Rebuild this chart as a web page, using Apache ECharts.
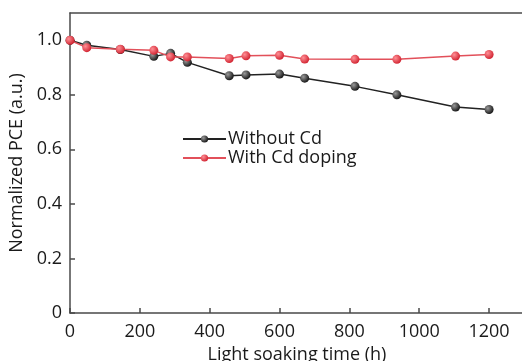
<!DOCTYPE html>
<html>
<head>
<meta charset="utf-8">
<script src="https://cdn.jsdelivr.net/npm/echarts@6/dist/echarts.min.js"></script>
<style>
  html, body { margin: 0; padding: 0; background: #fff; }
  #chart { width: 522px; height: 361px; }
</style>
</head>
<body>
<div id="chart"></div>
<script>
// soaking time in hours
const hours = [0, 48, 144, 240, 288, 336, 456, 504, 600, 672, 816, 936, 1104, 1200];
const withoutCd = [1.0, 0.982, 0.966, 0.941, 0.952, 0.919, 0.870, 0.873, 0.876, 0.861, 0.831, 0.800, 0.755, 0.746];
const withCd = [1.0, 0.973, 0.967, 0.963, 0.939, 0.939, 0.933, 0.943, 0.945, 0.931, 0.930, 0.930, 0.942, 0.948];
const seriesNames = ["Without Cd", "With Cd doping"];

const FONT = "Open Sans";
const AXIS = "#4a4a4a";

function ball(light, dark) {
  return new echarts.graphic.RadialGradient(0.35, 0.35, 0.7, [
    { offset: 0, color: light },
    { offset: 1, color: dark },
  ]);
}

const chart = echarts.init(document.getElementById("chart"));

chart.setOption({
  backgroundColor: "#fff",
  animation: false,
  textStyle: { fontFamily: FONT },
  grid: { left: 70, top: 13, bottom: 48, width: 454, outerBoundsMode: "none", containLabel: false },
  legend: {
    orient: "vertical",
    left: 177,
    top: 125,
    itemWidth: 43,
    itemHeight: 9,
    itemGap: 1,
    data: seriesNames,
    textStyle: { fontFamily: FONT, fontSize: 18, color: "#1a1a1a", lineHeight: 18, padding: [0, 0, 0, -3] },
  },
  xAxis: [
    {
      type: "value",
      min: 0,
      max: 1300,
      interval: 200,
      name: "Light soaking time (h)",
      nameLocation: "middle",
      nameGap: 31,
      nameTextStyle: { fontFamily: FONT, fontSize: 18, color: "#1a1a1a" },
      axisLine: { lineStyle: { color: AXIS, width: 1.5 } },
      axisTick: { inside: true, length: 5, lineStyle: { color: AXIS, width: 1.5 } },
      axisLabel: { showMaxLabel: false, margin: 10, fontSize: 18, color: "#1a1a1a", formatter: (v) => String(v) },
      splitLine: { show: false },
    },
    {
      type: "value",
      position: "top",
      min: 0,
      max: 1300,
      axisLine: { show: true, lineStyle: { color: AXIS, width: 1.5 } },
      axisTick: { show: false },
      axisLabel: { show: false },
      splitLine: { show: false },
    },
  ],
  yAxis: {
    type: "value",
    min: 0,
    max: 1.1,
    interval: 0.2,
    name: "Normalized PCE (a.u.)",
    nameLocation: "middle",
    nameGap: 40,
    nameTextStyle: { fontFamily: FONT, fontSize: 18, color: "#1a1a1a" },
    axisLine: { show: true, lineStyle: { color: AXIS, width: 1.5 } },
    axisTick: { inside: true, length: 5, lineStyle: { color: AXIS, width: 1.5 } },
    axisLabel: {
      showMaxLabel: false,
      margin: 8,
      fontSize: 18,
      color: "#1a1a1a",
      formatter: (v) => (v === 0 ? "0" : v.toFixed(1)),
    },
    splitLine: { show: false },
  },
  series: [
    {
      name: seriesNames[0],
      type: "line",
      data: hours.map((h, i) => [h, withoutCd[i]]),
      symbol: "circle",
      symbolSize: 9,
      lineStyle: { color: "#222", width: 1.5 },
      itemStyle: { color: ball("#9a9a9a", "#111"), borderWidth: 0 },
      z: 2,
    },
    {
      name: seriesNames[1],
      type: "line",
      data: hours.map((h, i) => [h, withCd[i]]),
      symbol: "circle",
      symbolSize: 9,
      lineStyle: { color: "#e2505a", width: 1.5 },
      itemStyle: { color: ball("#ff8f95", "#d0202e"), borderWidth: 0 },
      z: 3,
    },
  ],
});
</script>
</body>
</html>
